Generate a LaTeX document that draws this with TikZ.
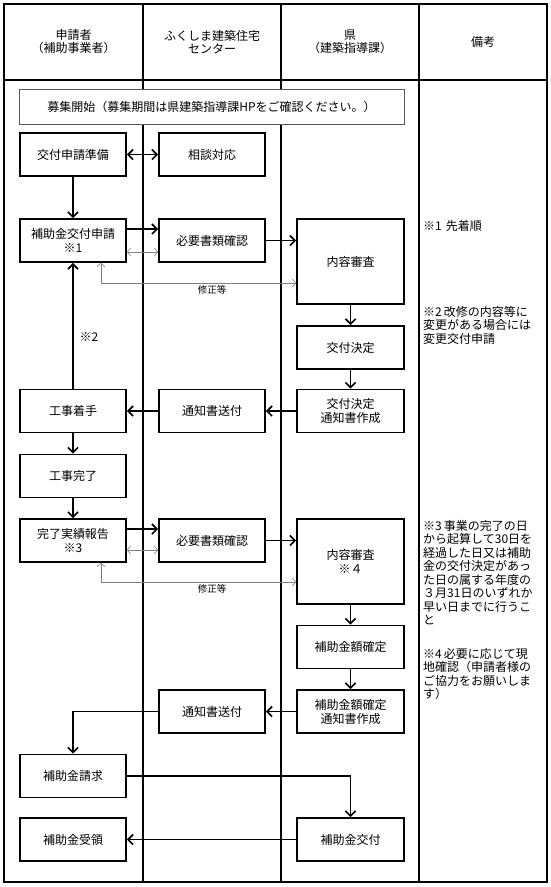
\documentclass[tikz,border=0pt]{standalone}
\usepackage{fontspec}
\setmainfont{Noto Sans CJK JP}
\usetikzlibrary{arrows.meta,calc}
\begin{document}
\begin{tikzpicture}[x=1pt,y=-1pt,
  box/.style={draw, line width=1.7pt, fill=white, minimum width=106pt, minimum height=43pt, inner sep=0pt, align=center, font=\fontsize{12}{14}\selectfont},
  hdr/.style={align=center, inner sep=0pt, font=\fontsize{12}{13}\selectfont},
  note/.style={align=left, anchor=north west, inner sep=0pt, font=\fontsize{12}{13.5}\selectfont},
  small/.style={inner sep=0pt, font=\fontsize{9.5}{11}\selectfont},
  arr/.style={line width=1.7pt, -{Straight Barb[length=5pt,width=10pt]}},
  dbl/.style={line width=1.7pt, {Straight Barb[length=5pt,width=10pt]}-{Straight Barb[length=5pt,width=10pt]}},
  garr/.style={draw=black!50, line width=0.6pt, {Straight Barb[length=3.5pt,width=8pt]}-{Straight Barb[length=3.5pt,width=8pt]}},
  frame/.style={line width=1.8pt}]
\useasboundingbox (0,0) rectangle (551,887);
% frame and lanes
\draw[frame] (4,4) rectangle (547,882);
\draw[frame] (4,80) -- (547,80);
\draw[frame] (143,4) -- (143,882);
\draw[frame] (281,4) -- (281,882);
\draw[frame] (419,4) -- (419,882);
% headers
\node[hdr] (h1) at (73.5,42) {申請者\\（補助事業者）};
\node[hdr] (h2) at (212,42) {ふくしま建築住宅\\センター};
\node[hdr] (h3) at (350,42) {県\\（建築指導課）};
\node[hdr] (h4) at (483,42) {備考};
% start box
\node[draw=black!65, line width=1pt, fill=white, minimum width=385pt, minimum height=35pt, inner sep=0pt, font=\fontsize{12}{14}\selectfont] (boshu) at (211.5,106.5) {募集開始（募集期間は県建築指導課HPをご確認ください。）};
% column 1
\node[box] (junbi) at (73,154.5) {交付申請準備};
\node[box] (shinsei) at (73,240.5) {補助金交付申請\\※1};
\node[box] (chakushu) at (73,411) {工事着手};
\node[box] (kanryo) at (73,476) {工事完了};
\node[box] (hokoku) at (73,540.5) {完了実績報告\\※3};
\node[box] (seikyu) at (73,776) {補助金請求};
\node[box] (juryo) at (73,839.5) {補助金受領};
% column 2
\node[box] (sodan) at (212,154.5) {相談対応};
\node[box] (kakunin1) at (212,240.5) {必要書類確認};
\node[box] (sofu1) at (212,411) {通知書送付};
\node[box] (kakunin2) at (212,540.5) {必要書類確認};
\node[box] (sofu2) at (212,711.5) {通知書送付};
% column 3
\node[box, minimum width=107pt, minimum height=85pt] (shinsa1) at (350.5,261.5) {内容審査};
\node[box, minimum width=107pt] (kettei) at (350.5,347.5) {交付決定};
\node[box, minimum width=107pt] (tsuchi1) at (350.5,411) {交付決定\\通知書作成};
\node[box, minimum width=107pt, minimum height=85pt] (shinsa2) at (350.5,561.5) {内容審査\\※４};
\node[box, minimum width=107pt] (kakutei) at (350.5,647) {補助金額確定};
\node[box, minimum width=107pt] (tsuchi2) at (350.5,711.5) {補助金額確定\\通知書作成};
\node[box, minimum width=107pt] (kofu) at (350.5,839.5) {補助金交付};
% helper coordinates
\coordinate (t1) at (0,229);
\coordinate (g1) at (0,252);
\coordinate (s1) at (101,283);
\coordinate (t2) at (0,529);
\coordinate (g2) at (0,550);
\coordinate (s2) at (101,582);
% connectors, first round
\draw[dbl] (junbi.east) -- (sodan.west);
\draw[arr] (junbi.south) -- (shinsei.north);
\draw[arr] (shinsei.east |- t1) -- (kakunin1.west |- t1);
\draw[garr] (shinsei.east |- g1) -- (kakunin1.west |- g1);
\draw[arr] (kakunin1.east) -- (shinsa1.west |- kakunin1.east);
\draw[garr] (s1 |- shinsei.south) -- (s1) -- (shinsa1.west |- s1);
\node[small] (shusei1) at (212,290) {修正等};
\draw[arr] (shinsa1.south) -- (kettei.north);
\draw[arr] (kettei.south) -- (tsuchi1.north);
\draw[arr] (tsuchi1.west) -- (sofu1.east);
\draw[arr] (sofu1.west) -- (chakushu.east);
\draw[arr] (chakushu.north) -- (shinsei.south);
\node[inner sep=0pt, font=\fontsize{12}{14}\selectfont] (kome2) at (89,337) {※2};
\draw[arr] (chakushu.south) -- (kanryo.north);
\draw[arr] (kanryo.south) -- (hokoku.north);
% second round
\draw[arr] (hokoku.east |- t2) -- (kakunin2.west |- t2);
\draw[garr] (hokoku.east |- g2) -- (kakunin2.west |- g2);
\draw[arr] (kakunin2.east) -- (shinsa2.west |- kakunin2.east);
\draw[garr] (s2 |- hokoku.south) -- (s2) -- (shinsa2.west |- s2);
\node[small] (shusei2) at (212,589) {修正等};
\draw[arr] (shinsa2.south) -- (kakutei.north);
\draw[arr] (kakutei.south) -- (tsuchi2.north);
\draw[arr] (tsuchi2.west) -- (sofu2.east);
\draw[arr] (sofu2.west) -| (seikyu.north);
\draw[arr] (seikyu.east) -| (kofu.north);
\draw[arr] (kofu.west) -- (juryo.east);
% notes
\node[note] (note1) at (423,220) {※1\hspace{4pt}先着順};
\node[note] (note2) at (423,306) {※2\hspace{2pt}改修の内容等に\\変更がある場合には\\変更交付申請};
\node[note] (note3) at (423,520) {※3\hspace{2pt}事業の完了の日\\から起算して30日を\\経過した日又は補助\\金の交付決定があっ\\た日の属する年度の\\３月31日のいずれか\\早い日までに行うこ\\と};
\node[note] (note4) at (423,648) {※4\hspace{2pt}必要に応じて現\\地確認（申請者様の\\ご協力をお願いしま\\す）};
\end{tikzpicture}
\end{document}
